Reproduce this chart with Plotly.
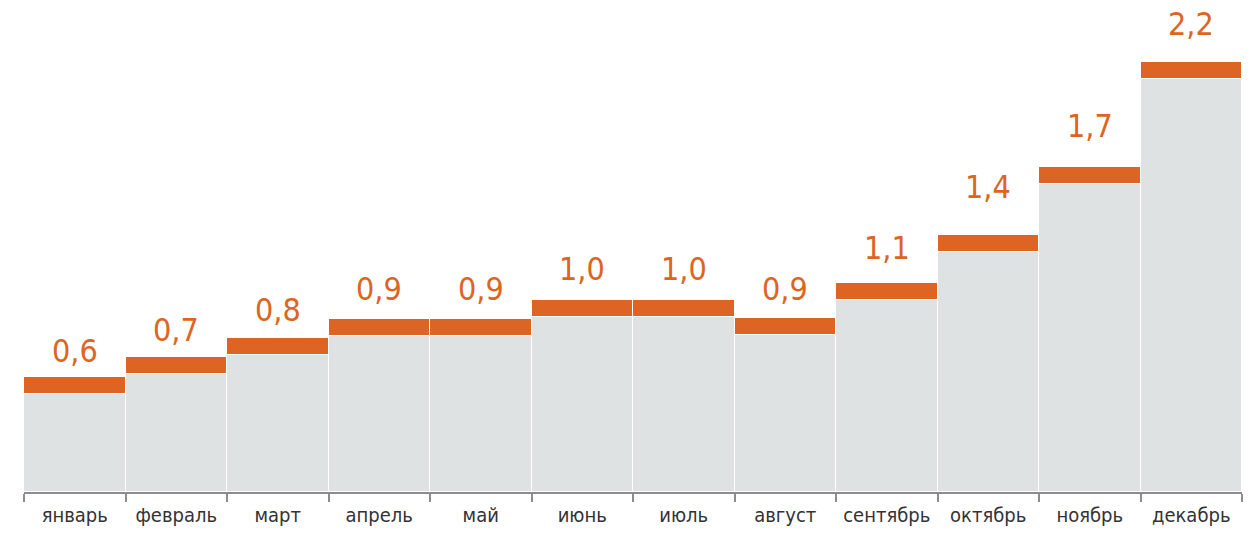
import plotly.graph_objects as go

months = ["январь", "февраль", "март", "апрель", "май", "июнь",
          "июль", "август", "сентябрь", "октябрь", "ноябрь", "декабрь"]
# bar heights as drawn
bar_values = [0.59, 0.69, 0.79, 0.885, 0.885, 0.98, 0.98, 0.89, 1.07, 1.315, 1.66, 2.2]
# value labels shown above the bars
label_values = [0.6, 0.7, 0.8, 0.9, 0.9, 1.0, 1.0, 0.9, 1.1, 1.4, 1.7, 2.2]
label_texts = ["0,6", "0,7", "0,8", "0,9", "0,9", "1,0", "1,0", "0,9", "1,1", "1,4", "1,7", "2,2"]

ORANGE = "#DD6422"
GREY = "#DFE2E3"
AXIS = "#8C8C8C"
CAP = 0.087  # thickness of orange cap in data units
FONT = "Tahoma, 'DejaVu Sans Condensed', 'Liberation Sans', sans-serif"

W, H = 1259, 533
M_T, M_B, M_L, M_R = 2, 49, 16, 25
plot_h = H - M_T - M_B
px_per_unit = 195.5
y_max = plot_h / px_per_unit

# separate scale for the value labels
lab_scale = 204.1
lab_off = -2.0
y2_range = [-lab_off / lab_scale, (plot_h - lab_off) / lab_scale]

fig = go.Figure()
fig.add_trace(go.Bar(
    x=months, y=[v - CAP for v in bar_values],
    marker=dict(color=GREY, line=dict(color="white", width=1)),
    hoverinfo="skip", showlegend=False))
fig.add_trace(go.Bar(
    x=months, y=[CAP] * len(months),
    marker=dict(color=ORANGE, line=dict(color="white", width=1)),
    hoverinfo="skip", showlegend=False))
fig.add_trace(go.Scatter(
    x=months, y=label_values, yaxis="y2", mode="markers",
    marker=dict(opacity=0), hoverinfo="skip", showlegend=False))

for m, v, t in zip(months, label_values, label_texts):
    fig.add_annotation(x=m, y=v, xref="x", yref="y2", text=t, showarrow=False,
                       yanchor="bottom",
                       font=dict(family=FONT, size=32, color=ORANGE))

fig.update_layout(
    barmode="stack", bargap=0,
    width=W, height=H,
    margin=dict(t=M_T, b=M_B, l=M_L, r=M_R),
    paper_bgcolor="white", plot_bgcolor="white",
    xaxis=dict(range=[-0.5, 11.5], showline=True, linecolor=AXIS, linewidth=2,
               ticks="outside", tickson="boundaries", ticklen=8, tickwidth=2,
               tickcolor=AXIS, showgrid=False, zeroline=False,
               ticklabelstandoff=4,
               tickfont=dict(family=FONT, size=20, color="#333333")),
    yaxis=dict(range=[0, y_max], visible=False, fixedrange=True),
    yaxis2=dict(range=y2_range, overlaying="y", visible=False, fixedrange=True),
)

fig.write_html("out.html", config={"displayModeBar": False})
